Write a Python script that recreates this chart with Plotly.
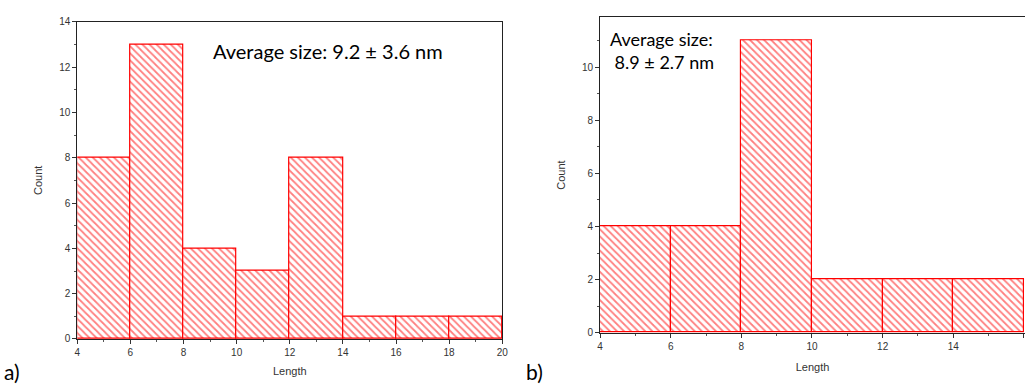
import plotly.graph_objects as go

# Panel a data
a_bin_starts = [4, 6, 8, 10, 12, 14, 16, 18]
a_counts = [8, 13, 4, 3, 8, 1, 1, 1]
a_text = "Average size: 9.2 ± 3.6 nm"

# Panel b data
b_bin_starts = [4, 6, 8, 10, 12, 14]
b_counts = [4, 4, 11, 2, 2, 2]
b_text = "Average size:<br> 8.9 ± 2.7 nm"

bin_width = 2
RED = "#ff0000"

fig = go.Figure()

def hist_bar(xs, ys, xa, ya):
    return go.Bar(
        x=xs, y=ys, width=[bin_width] * len(xs), offset=0,
        xaxis=xa, yaxis=ya,
        marker=dict(
            color="white",
            line=dict(color=RED, width=1.2),
            pattern=dict(shape="\\", fgcolor=RED, bgcolor="white",
                         size=5, solidity=0.35, fillmode="overlay"),
        ),
        showlegend=False,
    )

fig.add_trace(hist_bar(a_bin_starts, a_counts, "x", "y"))
fig.add_trace(hist_bar(b_bin_starts, b_counts, "x2", "y2"))

tickfont = dict(family="Liberation Sans, Arial", size=10, color="#333")
titlefont = dict(family="Liberation Sans, Arial", size=11, color="#333")

common_axis = dict(
    showgrid=False, zeroline=False, showline=True, linecolor="#222",
    linewidth=1, mirror=True, ticks="outside", ticklen=4, tickcolor="#333",
    tickfont=tickfont, title_font=titlefont, automargin=False,
    minor=dict(ticks="outside", ticklen=2, tickcolor="#555"),
)

fig.update_layout(
    width=1025, height=385,
    margin=dict(l=0, r=0, t=0, b=0, autoexpand=False),
    paper_bgcolor="white", plot_bgcolor="white",
    bargap=0,
    xaxis=dict(common_axis, domain=[0.0754, 0.490], range=[4, 20],
               tick0=4, dtick=2, minor_dtick=1,
               title=dict(text="Length", standoff=10), anchor="y"),
    yaxis=dict(common_axis, domain=[0.1195, 0.9436], range=[0, 14],
               tick0=0, dtick=2, minor_dtick=1,
               title=dict(text="Count", standoff=14), anchor="x"),
    xaxis2=dict(common_axis, domain=[0.5854, 1.0], range=[4, 16.03],
                tick0=4, dtick=2, minor_dtick=1,
                title=dict(text="Length", standoff=12), anchor="y2"),
    yaxis2=dict(common_axis, domain=[0.1358, 0.955], range=[0, 11.87],
                tick0=0, dtick=2, minor_dtick=1,
                title=dict(text="Count", standoff=14), anchor="x2"),
)

fig.add_annotation(text=a_text, xref="paper", yref="paper",
                   x=211 / 1025, y=1 - 51 / 385, xanchor="left", yanchor="middle",
                   showarrow=False, font=dict(family="Lato, Open Sans", size=20, color="black"))
fig.add_annotation(text=b_text, xref="paper", yref="paper",
                   x=608 / 1025, y=1 - 51 / 385, xanchor="left", yanchor="middle",
                   showarrow=False, font=dict(family="Lato, Open Sans", size=18, color="black"),
                   align="left")
fig.add_annotation(text="a)", xref="paper", yref="paper",
                   x=2 / 1025, y=1 - 371 / 385, xanchor="left", yanchor="middle",
                   showarrow=False, font=dict(family="Lato, Open Sans", size=21, color="black"))
fig.add_annotation(text="b)", xref="paper", yref="paper",
                   x=524 / 1025, y=1 - 371 / 385, xanchor="left", yanchor="middle",
                   showarrow=False, font=dict(family="Lato, Open Sans", size=21, color="black"))

fig.write_html(
    "out.html",
    config={"displayModeBar": False},
    post_script="document.body.style.margin='0';document.body.style.overflow='hidden';",
)
